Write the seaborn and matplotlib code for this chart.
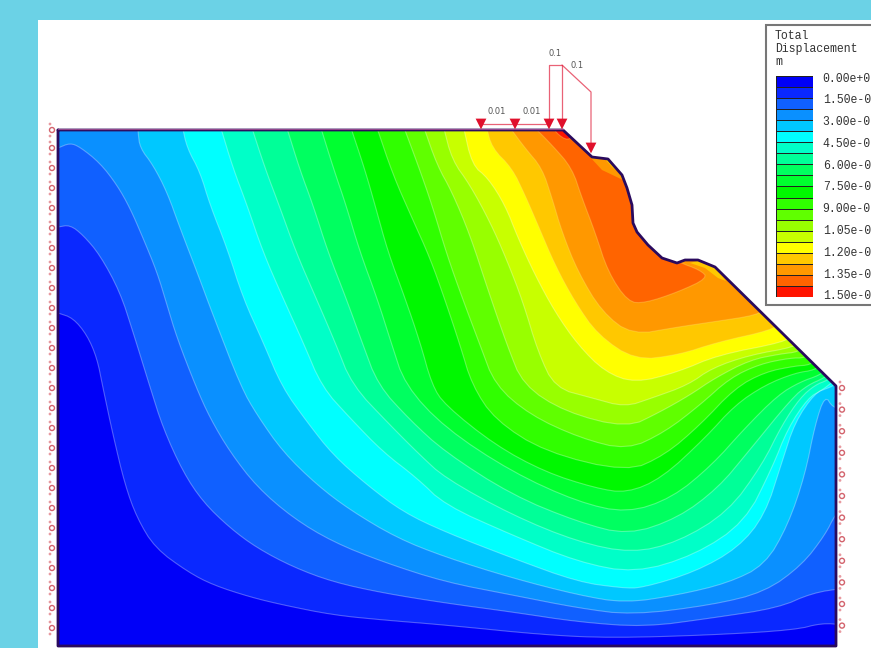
import numpy as np
import matplotlib
matplotlib.use('Agg')
import matplotlib.pyplot as plt
from matplotlib.colors import ListedColormap
from matplotlib.patches import Polygon, Rectangle
import seaborn as sns

# slope outline (model units, y pointing down)
slope_x = [58, 563, 592, 608, 622, 627, 632, 633, 637, 648, 662, 677, 685, 698, 715, 836, 836, 58]
slope_y = [130, 130, 157, 159, 175, 188, 205, 223, 232, 245, 258, 263, 260, 260, 267, 386, 646, 646]

# contour lines of total displacement, one per legend step
level_01_x = [58, 73, 87, 97, 103, 113, 125, 137, 155, 188, 213, 250, 283, 333, 383, 445, 545, 612, 712, 795, 822, 845]
level_01_y = [313, 318, 335, 358, 388, 435, 485, 518, 548, 572, 585, 597, 605, 615, 620, 625, 635, 638, 635, 630, 623, 625]
level_02_x = [58, 70, 83, 100, 120, 133, 150, 163, 183, 203, 230, 257, 293, 333, 383, 445, 512, 578, 645, 712, 778, 812, 845]
level_02_y = [227, 225, 235, 255, 292, 332, 387, 428, 472, 502, 528, 548, 567, 582, 593, 603, 612, 622, 627, 618, 608, 593, 588]
level_03_x = [58, 70, 80, 100, 117, 130, 143, 157, 167, 177, 196, 210, 230, 257, 293, 333, 383, 445, 512, 578, 632, 712, 765, 802, 825, 835, 845]
level_03_y = [148, 143, 147, 163, 185, 208, 238, 272, 305, 338, 387, 418, 452, 487, 518, 542, 562, 582, 595, 608, 615, 605, 592, 565, 535, 515, 505]
level_04_x = [138, 138, 140, 153, 167, 180, 197, 213, 241, 257, 283, 317, 350, 397, 445, 512, 578, 625, 678, 728, 765, 788, 805, 815, 825, 833, 845]
level_04_y = [125, 132, 148, 165, 192, 228, 272, 315, 387, 415, 452, 485, 510, 538, 557, 578, 595, 603, 595, 583, 565, 525, 475, 425, 395, 408, 408]
level_05_x = [182, 187, 200, 210, 227, 243, 263, 282, 307, 333, 367, 403, 445, 512, 578, 622, 642, 695, 738, 765, 782, 795, 815, 828, 833, 843]
level_05_y = [125, 148, 172, 205, 248, 298, 342, 387, 422, 455, 485, 512, 532, 558, 582, 588, 588, 572, 548, 515, 462, 422, 393, 388, 386, 378]
level_06_x = [220, 233, 247, 263, 283, 303, 322, 350, 383, 417, 445, 512, 578, 635, 695, 745, 772, 788, 808, 822, 830, 840]
level_06_y = [125, 168, 205, 252, 298, 342, 387, 418, 452, 478, 505, 535, 562, 573, 555, 522, 468, 428, 398, 390, 384, 376]
level_07_x = [251, 265, 279, 296, 316, 335, 352, 390, 420, 445, 512, 578, 632, 678, 728, 762, 782, 800, 815, 828, 838]
level_07_y = [125, 168, 205, 252, 298, 342, 385, 425, 455, 478, 515, 542, 553, 542, 512, 465, 425, 398, 385, 380, 372]
level_08_x = [286, 300, 313, 328, 346, 362, 378, 410, 445, 512, 578, 628, 678, 718, 748, 792, 808, 824, 834]
level_08_y = [125, 170, 205, 252, 298, 342, 385, 420, 452, 495, 522, 535, 518, 488, 452, 398, 385, 378, 370]
level_09_x = [320, 334, 346, 360, 377, 391, 405, 445, 512, 578, 627, 672, 712, 745, 778, 800, 820, 830]
level_09_y = [125, 170, 205, 252, 298, 342, 385, 428, 472, 502, 513, 498, 465, 428, 395, 382, 375, 367]
level_10_x = [350, 365, 375, 388, 405, 420, 432, 445, 495, 545, 595, 627, 662, 705, 735, 765, 795, 815, 825]
level_10_y = [125, 170, 205, 252, 298, 342, 385, 405, 445, 472, 488, 493, 478, 438, 405, 385, 373, 370, 362]
level_11_x = [376, 393, 412, 430, 445, 460, 472, 495, 545, 627, 665, 700, 735, 765, 795, 810, 820]
level_11_y = [125, 175, 218, 258, 300, 345, 385, 420, 452, 472, 455, 425, 388, 372, 366, 365, 357]
level_12_x = [403, 418, 432, 447, 463, 480, 495, 530, 580, 627, 665, 700, 730, 760, 790, 805, 815]
level_12_y = [125, 165, 205, 255, 300, 345, 385, 415, 438, 450, 432, 405, 378, 364, 358, 358, 350]
level_13_x = [423, 437, 452, 470, 488, 507, 523, 565, 627, 660, 690, 715, 750, 780, 798, 808]
level_13_y = [125, 165, 192, 235, 290, 345, 385, 412, 428, 412, 395, 378, 360, 354, 352, 344]
level_14_x = [443, 452, 470, 490, 506, 523, 538, 555, 592, 625, 652, 688, 712, 750, 795, 803]
level_14_y = [125, 160, 185, 222, 258, 302, 352, 388, 398, 407, 398, 385, 368, 355, 347, 339]
level_15_x = [463, 472, 488, 505, 518, 535, 555, 578, 605, 635, 678, 718, 785, 793]
level_15_y = [125, 165, 178, 205, 238, 275, 312, 345, 372, 383, 372, 355, 342, 334]
level_16_x = [486, 492, 512, 525, 538, 555, 575, 598, 635, 678, 718, 772, 780]
level_16_y = [125, 148, 168, 195, 225, 265, 302, 335, 360, 355, 342, 330, 322]
level_17_x = [508, 525, 542, 552, 562, 578, 602, 632, 678, 712, 758, 766]
level_17_y = [125, 148, 168, 198, 232, 272, 312, 335, 327, 322, 315, 307]
level_18_x = [532, 552, 572, 582, 595, 608, 628, 645, 678, 708, 700, 678, 674]
level_18_y = [125, 145, 168, 198, 232, 272, 302, 303, 292, 278, 270, 262, 255]
level_19_x = [553, 556, 568, 575]
level_19_y = [125, 133, 141, 133]

# lighter pockets below the free surface
pocket_upper_x = [590, 602, 623, 628, 612]
pocket_upper_y = [157, 170, 180, 165, 150]
pocket_rim_x = [604, 612, 619, 622, 610]
pocket_rim_y = [158, 167, 173, 165, 155]
pocket_ledge_x = [690, 705, 718, 726, 715, 700]
pocket_ledge_y = [263, 268, 278, 281, 267, 260]

band_colors = ['#0000f8', '#0a28ff', '#1060ff', '#0a90ff', '#00c8ff',
               '#00ffff', '#00ffc8', '#00ff98', '#00ff60', '#00ff30',
               '#00f800', '#30ff00', '#60ff00', '#98ff00', '#c8ff00',
               '#ffff00', '#ffc800', '#ff9800', '#ff6400', '#ff1400']
legend_labels = ['0.00e+0', '1.50e-0', '3.00e-0', '4.50e-0', '6.00e-0', '7.50e-0',
                 '9.00e-0', '1.05e-0', '1.20e-0', '1.35e-0', '1.50e-0']

# applied loads
load_x = [481, 515, 549, 562, 591]
load_y = [129, 129, 129, 129, 153]
load_labels = ['0.01', '0.01', '0.1', '0.1']
load_label_x = [497, 532, 555, 577]
load_label_y = [111, 111, 53, 66]


def rounded(x, y, passes=2):
    # corner cutting so the contour polylines draw as soft curves
    pts = np.column_stack([x, y]).astype(float)
    for _ in range(passes):
        q = 0.75 * pts[:-1] + 0.25 * pts[1:]
        r = 0.25 * pts[:-1] + 0.75 * pts[1:]
        mid = np.empty((len(q) * 2, 2))
        mid[0::2] = q
        mid[1::2] = r
        pts = np.vstack([pts[:1], mid, pts[-1:]])
    return pts[:, 0], pts[:, 1]


sns.set_theme(style='white')
plt.rcParams['font.family'] = ['Liberation Mono', 'DejaVu Sans']

palette = sns.color_palette(band_colors)
levels = [
    (level_01_x, level_01_y), (level_02_x, level_02_y), (level_03_x, level_03_y),
    (level_04_x, level_04_y), (level_05_x, level_05_y), (level_06_x, level_06_y),
    (level_07_x, level_07_y), (level_08_x, level_08_y), (level_09_x, level_09_y),
    (level_10_x, level_10_y), (level_11_x, level_11_y), (level_12_x, level_12_y),
    (level_13_x, level_13_y), (level_14_x, level_14_y), (level_15_x, level_15_y),
    (level_16_x, level_16_y), (level_17_x, level_17_y), (level_18_x, level_18_y),
    (level_19_x, level_19_y),
]

fig = plt.figure(figsize=(8.71, 6.48), dpi=100, facecolor='#6bd2e6')
ax = fig.add_axes([0, 0, 1, 1])
ax.set_xlim(0, 871)
ax.set_ylim(648, 0)
ax.axis('off')
ax.add_patch(Rectangle((38, 20), 840, 640, facecolor='white', edgecolor='none', zorder=0))

slope_xy = np.column_stack([slope_x, slope_y])
clip = Polygon(slope_xy, closed=True, transform=ax.transData)

# bands painted from low to high, each one closed over the top of the model
ax.fill(slope_x, slope_y, color=palette[0], lw=0, zorder=1)
for k, (lx, ly) in enumerate(levels):
    sx, sy = rounded(lx, ly)
    px = list(sx) + [900, 900, lx[0]]
    py = list(sy) + [ly[-1], 90, 90]
    band = ax.fill(px, py, color=palette[k + 1], lw=0, zorder=2 + k * 0.01)[0]
    band.set_clip_path(clip)

for pocket_x, pocket_y, band_id in [(pocket_upper_x, pocket_upper_y, 17),
                                    (pocket_rim_x, pocket_rim_y, 16),
                                    (pocket_ledge_x, pocket_ledge_y, 16)]:
    patch = ax.fill(pocket_x, pocket_y, color=palette[band_id], lw=0, zorder=2.5)[0]
    patch.set_clip_path(clip)

for k, (lx, ly) in enumerate(levels):
    n_before = len(ax.lines)
    line_color = 'white' if k < 15 else '#ffe680'
    sx, sy = rounded(lx, ly)
    sns.lineplot(x=sx, y=sy, sort=False, estimator=None, ax=ax, color=line_color,
                 lw=0.8, alpha=0.3, zorder=3)
    for ln in ax.lines[n_before:]:
        ln.set_clip_path(clip)

ax.plot(slope_x + slope_x[:1], slope_y + slope_y[:1], color='#2a0a5e', lw=2, zorder=4)
ax.plot(slope_x[:2], [129, 129], color='#c060a0', lw=0.8, alpha=0.7, zorder=4)

# load lines and arrow heads
load_red = '#e0203c'
ax.plot([481, 549], [124, 124], color=load_red, lw=0.9, alpha=0.7, zorder=5)
ax.plot([549, 549, 562, 562], [124, 65, 65, 124], color=load_red, lw=0.9, alpha=0.7, zorder=5)
ax.plot([562, 591, 591], [65, 92, 150], color=load_red, lw=0.9, alpha=0.7, zorder=5)
sns.scatterplot(x=load_x, y=np.array(load_y) - 5, marker='v', s=60, color='#e0102c',
                edgecolor='none', ax=ax, zorder=6)
for label, tx, ty in zip(load_labels, load_label_x, load_label_y):
    ax.text(tx, ty, label, ha='center', va='center', fontsize=6, color='#555555',
            family=['DejaVu Sans'], zorder=6)

# pinned supports along both sides
left_support_y = np.r_[130, np.arange(148, 640, 20)]
right_support_y = np.arange(388, 640, 21.6)
for sx, sy in [(52, left_support_y), (842, right_support_y)]:
    sns.scatterplot(x=np.full(len(sy), sx), y=sy, marker='o', s=13, facecolor='none',
                    edgecolor='#c83c48', linewidth=1, alpha=0.8, ax=ax, zorder=5)
    sns.scatterplot(x=np.r_[np.full(len(sy), sx - 2), np.full(len(sy), sx - 2)],
                    y=np.r_[sy - 6, sy + 6], marker='o', s=4, color='#e89aa0',
                    edgecolor='none', ax=ax, zorder=5)

# legend box with the colour key as a one column heatmap
ax.add_patch(Rectangle((766, 25), 120, 280, facecolor='white', edgecolor='#777777', lw=1.5, zorder=7))
for i, word in enumerate(['Total', 'Displacement', 'm']):
    ax.text(775, 36 + i * 13, word, ha='left', va='center', fontsize=8.3, color='#333333', zorder=8)

legend_ax = fig.add_axes([776 / 871, 1 - 297 / 648, 37 / 871, 221 / 648], zorder=9)
legend_levels = np.arange(len(band_colors)).reshape(-1, 1)
sns.heatmap(legend_levels, cmap=ListedColormap(band_colors), cbar=False, linewidths=0.7,
            linecolor='#222222', xticklabels=False, ax=legend_ax)
legend_ax.set_yticks(np.linspace(0.1, 19.8, 11))
legend_ax.set_yticklabels(legend_labels, rotation=0, fontsize=8.3, color='#333333')
legend_ax.yaxis.tick_right()
legend_ax.tick_params(axis='y', length=0, pad=7)

fig.savefig('out.png', dpi=100, facecolor=fig.get_facecolor())
plt.close(fig)
